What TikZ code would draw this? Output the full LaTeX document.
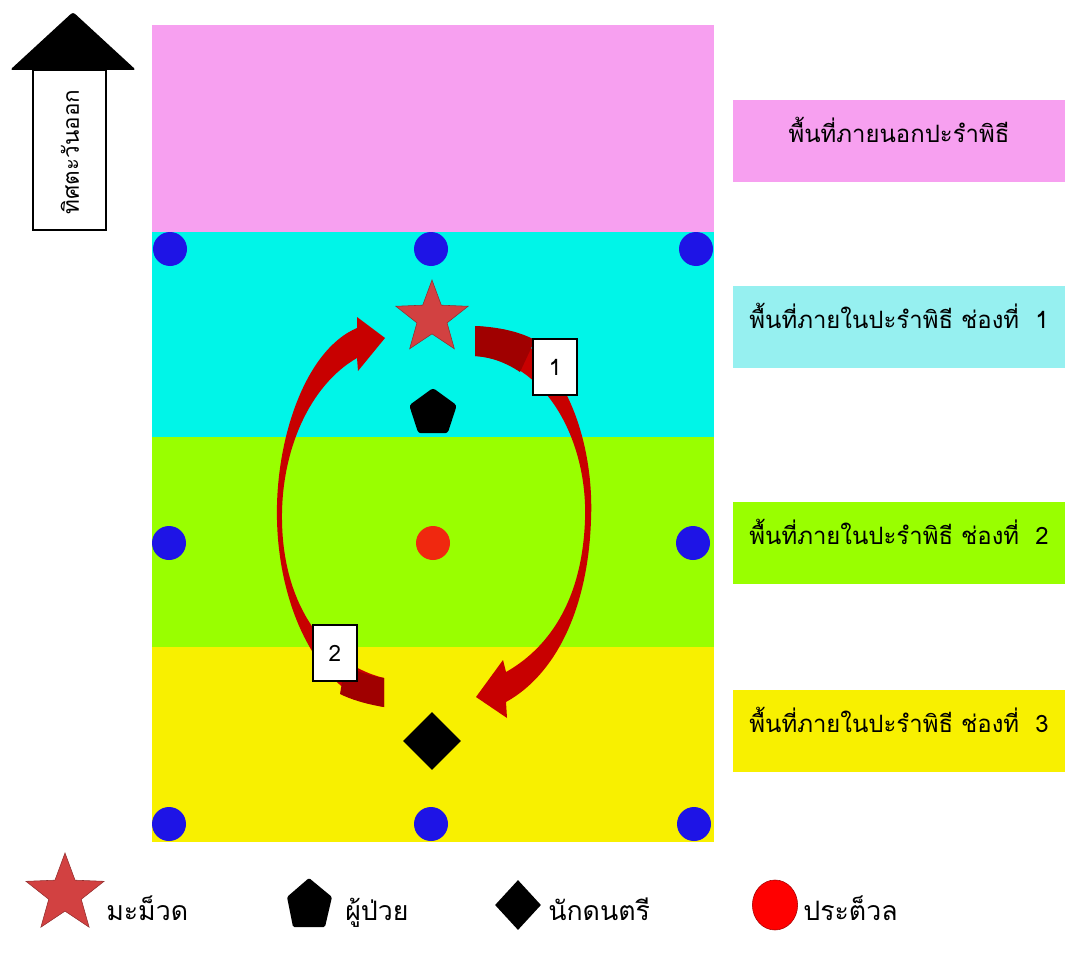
\documentclass[tikz,border=0pt]{standalone}
\usepackage{fontspec}
\newfontfamily\thaifont[Script=Thai]{Loma}
\usetikzlibrary{shapes.geometric,positioning}

\definecolor{outerpink}{RGB}{247,160,240}
\definecolor{zonecyan}{RGB}{0,245,232}
\definecolor{labelcyan}{RGB}{150,240,240}
\definecolor{zonegreen}{RGB}{153,255,0}
\definecolor{zoneyellow}{RGB}{248,240,0}
\definecolor{dotblue}{RGB}{30,20,230}
\definecolor{dotred}{RGB}{240,40,15}
\definecolor{arrowred}{RGB}{200,0,0}
\definecolor{starred}{RGB}{210,65,65}

\tikzset{
  labelbox/.style={inner sep=0pt, minimum width=8.3cm, text height=1.05cm,
    text depth=0.975cm, font=\thaifont\fontsize{17}{19}\selectfont},
  numbox/.style={draw, fill=white, thick, minimum width=1.1cm, minimum height=1.4cm,
    font=\thaifont\fontsize{16}{18}\selectfont},
  legendtext/.style={font=\thaifont\fontsize{19}{21}\selectfont, inner sep=0pt, anchor=base west}
}

\begin{document}
\begin{tikzpicture}[x=0.025cm,y=-0.025cm]
\useasboundingbox (0,0) rectangle (1065,959);

% zones of the ceremony
\fill[outerpink]  (152,25)  rectangle (714,232);
\fill[zonecyan]   (152,232) rectangle (714,437);
\fill[zonegreen]  (152,437) rectangle (714,647);
\fill[zoneyellow] (152,647) rectangle (714,842);

\node[labelbox, fill=outerpink]  (lab0) at (899,141) {พื้นที่ภายนอกปะรำพิธี};
\node[labelbox, fill=labelcyan]  (lab1) at (899,327) {พื้นที่ภายในปะรำพิธี ช่องที่~ 1};
\node[labelbox, fill=zonegreen]  (lab2) at (899,543) {พื้นที่ภายในปะรำพิธี ช่องที่~ 2};
\node[labelbox, fill=zoneyellow] (lab3) at (899,731) {พื้นที่ภายในปะรำพิธี ช่องที่~ 3};

% posts
\coordinate (p1) at (170,249);
\coordinate (p2) at (431,249);
\coordinate (p3) at (696,249);
\coordinate (p4) at (169,543);
\coordinate (p5) at (693,543);
\coordinate (p6) at (169,824);
\coordinate (p7) at (431,824);
\coordinate (p8) at (694,824);

\foreach \i in {p1,p2,p3,p4,p5,p6,p7,p8}
    \fill[dotblue] (\i) circle[radius=17];

\fill[dotred] (433,543) circle[radius=17];

% circling arrows
\fill[arrowred] (475,326) .. controls (555,330) and (595,430) .. (591,520)
    .. controls (588,610) and (555,675) .. (506,702)
    -- (507,718) -- (476,697) -- (503,660) -- (506,672)
    .. controls (545,650) and (582,605) .. (585,520)
    .. controls (588,440) and (545,360) .. (475,356) -- cycle;
\fill[arrowred!80!black] (475,326) .. controls (500,327) and (520,332) .. (535,340)
    -- (520,372) .. controls (505,362) and (490,357) .. (475,356) -- cycle;

\fill[arrowred] (357,328) .. controls (305,350) and (275,440) .. (277,520)
    .. controls (279,610) and (320,695) .. (384,707)
    -- (384,678)
    .. controls (330,665) and (283,610) .. (282,520)
    .. controls (281,450) and (310,385) .. (357,358)
    -- (358,371) -- (385,338) -- (357,317) -- cycle;
\fill[arrowred!80!black] (384,707) .. controls (365,704) and (350,699) .. (340,694)
    -- (345,665) .. controls (358,672) and (370,676) .. (384,678) -- cycle;

\node[numbox] (n1) at (555,367) {1};
\node[numbox] (n2) at (335,653) {2};

% people
\node[star, star points=5, star point ratio=2.4, minimum size=1.9cm, inner sep=0pt,
      fill=starred, draw=starred!70!black] (healer) at (432,318) {};
\node[regular polygon, regular polygon sides=5, minimum size=1.25cm, inner sep=0pt,
      fill=black, rounded corners=2pt] (patient) at (433,413) {};
\node[diamond, minimum width=1.45cm, minimum height=1.45cm, inner sep=0pt,
      fill=black] (musician) at (432,741) {};

% east arrow
\fill[black, rounded corners=2pt] (10,70) -- (73,12) -- (136,70) -- cycle;
\draw[thick, fill=white] (33,70) rectangle (106,230);
\node[rotate=90, font=\thaifont\fontsize{16}{18}\selectfont] (east) at (70,152) {ทิศตะวันออก};

% legend
\node[star, star points=5, star point ratio=2.4, minimum size=2.05cm, inner sep=0pt,
      fill=starred, draw=starred!70!black] (lstar) at (65,894) {};
\node[legendtext] (tstar) at (106,920) {มะม็วด};
\fill[black, rounded corners=1pt] (309,878) -- (332,897) -- (325,927) -- (293,927) -- (287,897) -- cycle;
\coordinate (lpent) at (345,920);
\node[legendtext] (tpent) at (lpent) {ผู้ป่วย};
\node[diamond, minimum width=1.15cm, minimum height=1.25cm, inner sep=0pt,
      fill=black] (ldiam) at (518,905) {};
\node[legendtext] (tdiam) at (548,920) {นักดนตรี};
\node[ellipse, minimum width=1.13cm, minimum height=1.25cm, inner sep=0pt,
      fill=red, draw=red!65!black] (lball) at (775,905) {};
\node[legendtext] (tball) at (803,920) {ประต็วล};

\end{tikzpicture}
\end{document}
